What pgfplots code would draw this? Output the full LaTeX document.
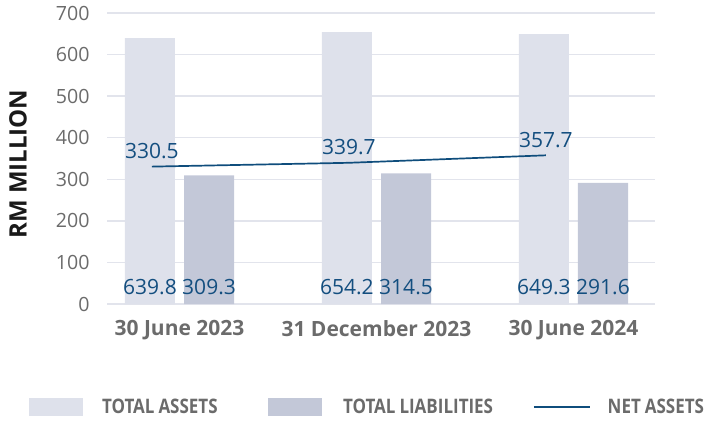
\documentclass[border=0pt]{standalone}
\usepackage{fontspec}
\setmainfont{Open Sans}
\newfontface\legfont[FakeStretch=0.85, WordSpace=0.9]{Open Sans Bold}
\usepackage{pgfplots}
\pgfplotsset{compat=1.18}
\definecolor{assets}{HTML}{DEE1EB}
\definecolor{liab}{HTML}{C3C8D8}
\definecolor{netc}{HTML}{0F4D7C}
\definecolor{valc}{HTML}{134E7F}
\definecolor{tickc}{HTML}{6B6B6B}
\definecolor{gridc}{HTML}{E2E4EC}
\begin{document}
\begin{tikzpicture}
\useasboundingbox (-53.5pt,-58pt) rectangle (299.5pt,152pt);
\begin{axis}[
  scale only axis, width=274pt, height=145.5pt,
  xmin=-0.368, xmax=2.414, ymin=0, ymax=700,
  ytick={0,100,...,700},
  xtick={0,1,2},
  xticklabels={30 June 2023,31 December 2023,30 June 2024},
  axis line style={draw=none},
  major tick length=0pt,
  ymajorgrids, grid style={gridc, line width=0.75pt},
  /pgf/number format/assume math mode=true,
  yticklabel style={font=\fontsize{9.8}{11}\selectfont, text=tickc, inner sep=0pt, xshift=-8.5pt},
  xticklabel style={font=\fontsize{10.5}{12}\selectfont\bfseries, text=tickc, inner sep=0pt, yshift=-8pt},
  ylabel={RM MILLION},
  ylabel style={at={(axis description cs:-0.1624,0.481)}, anchor=center, font=\fontsize{12}{14}\selectfont\bfseries, text=black!90},
  legend columns=3,
  legend style={draw=none, fill=none, inner sep=0pt, outer sep=0pt,
    at={(axis description cs:-0.1423,-0.355)}, anchor=west,
    font=\legfont\fontsize{10}{12}\selectfont, text=tickc,
    /tikz/column sep=0pt,
    nodes={inner sep=0pt}},
]
\addplot[ybar, bar width=0.254, bar shift=0pt, fill=assets, draw=none,
  legend image code/.code={\fill[assets] (0pt,-4.5pt) rectangle (27pt,4.5pt); \path (36.5pt,0pt);}]
  coordinates {(-0.15,639.8) (0.85,654.2) (1.85,649.3)};
\addlegendentry{\makebox[83pt][l]{TOTAL ASSETS}}
\addplot[ybar, bar width=0.254, bar shift=0pt, fill=liab, draw=none,
  legend image code/.code={\fill[liab] (0pt,-4.5pt) rectangle (27pt,4.5pt); \path (37.5pt,0pt);}]
  coordinates {(0.15,309.3) (1.15,314.5) (2.15,291.6)};
\addlegendentry{\makebox[95pt][l]{TOTAL LIABILITIES}}
\addplot[netc, line width=0.85pt, mark=none,
  nodes near coords, point meta=explicit symbolic,
  every node near coord/.style={anchor=south, inner sep=0pt, yshift=3.5pt, text=valc, font=\fontsize{10.5}{12}\selectfont},
  legend image code/.code={\draw[netc, line width=0.85pt] (0pt,0pt) -- (28pt,0pt); \path (36.5pt,0pt);}]
  coordinates {(-0.14,330.5)[330.5] (0.86,339.7)[339.7] (1.86,357.7)[357.7]};
\addlegendentry{NET ASSETS}
\addplot[draw=none, mark=none, forget plot,
  nodes near coords, point meta=explicit symbolic,
  every node near coord/.style={anchor=center, inner sep=0pt, text=valc, font=\fontsize{10.5}{12}\selectfont}]
  coordinates {(-0.15,41)[639.8] (0.15,41)[309.3] (0.85,41)[654.2] (1.15,41)[314.5] (1.85,41)[649.3] (2.15,41)[291.6]};
\end{axis}
\end{tikzpicture}
\end{document}
